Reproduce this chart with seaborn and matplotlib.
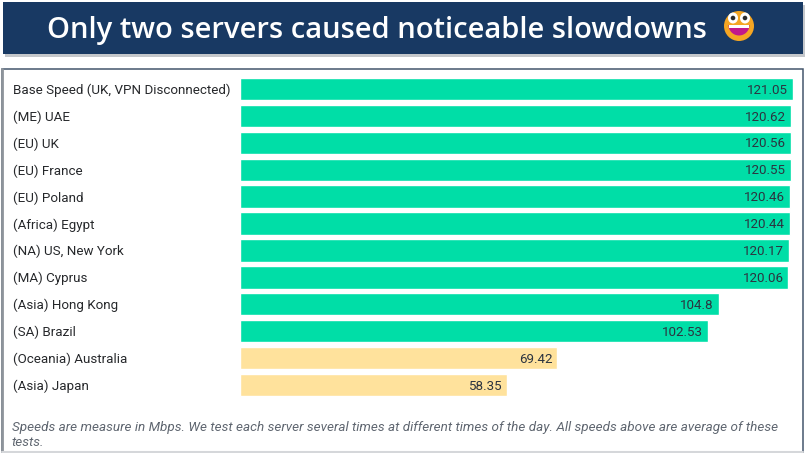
"""
Server speed bars, VPN test
"""

import matplotlib
matplotlib.use('Agg')
import matplotlib.pyplot as plt
from matplotlib.patches import Circle, Ellipse, Rectangle, Wedge
import pandas as pd
import seaborn as sns

servers = ['Base Speed (UK, VPN Disconnected)', '(ME) UAE', '(EU) UK', '(EU) France',
           '(EU) Poland', '(Africa) Egypt', '(NA) US, New York', '(MA) Cyprus',
           '(Asia) Hong Kong', '(SA) Brazil', '(Oceania) Australia', '(Asia) Japan']
speeds = [121.05, 120.62, 120.56, 120.55, 120.46, 120.44, 120.17, 120.06, 104.8, 102.53, 69.42, 58.35]
speed_labels = ['121.05', '120.62', '120.56', '120.55', '120.46', '120.44', '120.17', '120.06',
                '104.8', '102.53', '69.42', '58.35']
groups = ['fast'] * 10 + ['slow'] * 2
group_colors = {'fast': '#00dea7', 'slow': '#ffe29c'}

title = 'Only two servers caused noticeable slowdowns'
footnote = ('Speeds are measure in Mbps. We test each server several times at different times of the day. '
            'All speeds above are average of these\ntests.')

W, H = 806, 453

sns.set_theme(style='white')
plt.rcParams['font.family'] = ['Roboto', 'DejaVu Sans']

df = pd.DataFrame({'server': servers, 'speed': speeds, 'group': groups})

fig = plt.figure(figsize=(W / 100, H / 100), dpi=100, facecolor='white')

# background layer in pixel coordinates, y pointing down
bg = fig.add_axes([0, 0, 1, 1], zorder=0)
bg.set_xlim(0, W)
bg.set_ylim(H, 0)
bg.axis('off')
bg.add_patch(Rectangle((5, 5), 800, 52, fc='#c4c7cb', ec='none'))
bg.add_patch(Rectangle((3, 2), 800, 52, fc='#183963', ec='none'))
bg.add_patch(Rectangle((2, 68.5), 801, 390, fc='white', ec='#44566c', lw=1.1))
bg.plot([2, 2], [69, 453], color='#8e949b', lw=2)
bg.plot([2, 803], [452, 452], color='#d5d7da', lw=1.5)
bg.text(47, 27, title, color='white', fontsize=21, fontweight=600, family='Open Sans',
        ha='left', va='center_baseline')

# emoji
ex, ey = 739, 26
bg.add_patch(Circle((ex, ey), 15, fc='#f5a623', ec='none'))
bg.add_patch(Wedge((ex, ey - 1), 10.5, 0, 180, fc='#c2188b', ec='none'))
bg.add_patch(Rectangle((ex - 10, ey - 1), 20, 3, fc='white', ec='none'))
for dx in (-6, 6):
    bg.add_patch(Ellipse((ex + dx, ey - 8), 10, 11, fc='white', ec='none'))
    bg.add_patch(Circle((ex + dx, ey - 8), 2.3, fc='#2b2b2b', ec='none'))

# bars
ax = fig.add_axes([240 / W, 1 - 398.5 / H, 553 / W, 323 / H], zorder=1)
ax.patch.set_alpha(0)
sns.barplot(data=df, x='speed', y='server', hue='group', palette=group_colors, dodge=False,
            width=0.83, legend=False, saturation=1, ax=ax)
ax.set_xlim(0, 121.05)
ax.set_ylim(11.5, -0.5)
ax.set_xlabel('')
ax.set_ylabel('')
ax.set_xticks([])
sns.despine(ax=ax, left=True, bottom=True)
ax.tick_params(axis='y', length=0, pad=0)
ax.set_yticks(range(len(servers)))
ax.set_yticklabels([])

for i, (name, val, lab) in enumerate(zip(servers, speeds, speed_labels)):
    ax.annotate(name, (0, i), xytext=(13, -1.3), xycoords=('figure pixels', 'data'), textcoords='offset pixels',
                ha='left', va='center', fontsize=9.6, color='#26282b')
    ax.annotate(lab, (val, i), xytext=(-5, -1.2), textcoords='offset pixels',
                ha='right', va='center', fontsize=9.6, color='#2c3440')

bg.text(12, 435, footnote, fontsize=9.7, style='italic', color='#5f6670', ha='left', va='center',
        linespacing=1.25)

fig.savefig('out.png', dpi=100)
